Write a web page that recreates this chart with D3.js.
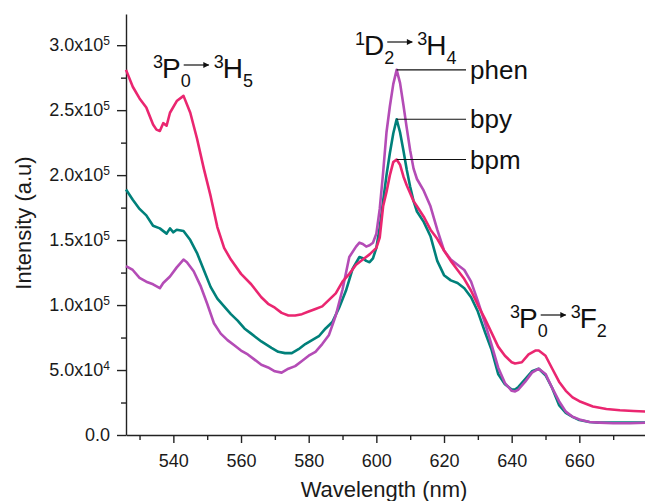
<!DOCTYPE html>
<html>
<head>
<meta charset="utf-8">
<script src="https://cdn.jsdelivr.net/npm/d3@7"></script>
<style>
  body { margin: 0; background: #fff; }
  svg { display: block; font-family: "Liberation Sans", Arial, Helvetica, sans-serif; }
</style>
</head>
<body>
<svg id="chart"></svg>
<script>
// intensity values are in units of 10^3 counts
const bpmWl = [526,528,530,532,534,535,536,537,538,539,541,543,545,547,549,551,553,555,557,560,563,566,568,570,572,574,576,578,580,582,584,586,588,590,592,594,596,598,600,601,602,603,604,605,606,607,608,609,610,611,612,614,616,618,620,622,624,626,628,630,632,634,636,638,640,641,643,645,647,648,650,652,654,656,658,660,664,668,672,676,680];
const bpmI = [281,268,259,252,239,235,234,240,238,248,257,261,248,228,205,184,160,144,135,124,116,106,101,98,94,92,92,93,95,97,99,104,109,118,124,131,135,139,144,152,176,187,200,210,212,208,199,192,186,180,176,168,158,151,142,134,127,120,111,100,90,79,68,61,56,55,56,62,65,65,61,51,41,34,29,26,22,20,19,18.5,18];

const bpyWl = [526,528,530,532,534,536,538,539,540,541,543,545,547,549,551,553,555,557,559,561,563,566,569,571,573,575,577,579,581,583,585,587,589,591,593,595,596,597,598,599,600,601,602,603,604,605,606,607,608,609,610,611,612,614,616,618,620,622,624,626,628,630,632,634,636,638,640,641,642,644,646,648,650,652,654,656,658,660,663,666,670,675,680];
const bpyI = [189,181,174,169,161,159,155,159,156,158,157,150,140,127,114,105,99,93,88,82,78,72,67,64,63,63,66,70,73,76,82,87,98,111,128,137,136,134,133,136,144,160,180,200,217,232,243,233,219,204,191,180,172,164,153,134,123,119,117,113,106,95,80,66,47,39,35,35,37,43,49,51,46,36,23,17,14,11.5,10,9.5,9.5,9.5,9.5];

const phenWl = [526,528,530,532,534,536,537,539,541,543,544,546,548,550,552,554,556,558,560,562,564,566,568,570,572,574,576,578,580,582,584,586,588,590,592,594,595,596,597,598,599,600,601,602,603,604,605,606,607,608,609,610,611,612,614,616,618,620,622,624,626,628,630,632,634,636,638,640,641,642,644,646,648,650,652,654,656,658,660,663,666,670,675,680];
const phenI = [130,127,121,118,116,113,117,122,129,135,133,126,115,101,86,78,73,69,65,62,58,54,52,49,48,51,53,57,61,64,70,77,92,112,137,145,148,147,145,146,148,155,174,202,233,253,270,281,271,254,236,219,205,197,188,176,158,142,135,131,127,118,103,87,70,52,40,34,33.5,35,41,48,51,47,36,26,18,14,12,10,9.5,9,9,9.5];

const seriesNames = ['bpy', 'phen', 'bpm'];
const seriesColors = ['#00807a', '#b44cb6', '#ea2670'];

// the 1D2 -> 3H4 band, where each curve's peak gets its label
const peakBand = [598, 614];

const xTicks = [540, 560, 580, 600, 620, 640, 660];
const xMinorTicks = [530, 550, 570, 590, 610, 630, 650, 670];
const yTicks = [0, 50, 100, 150, 200, 250, 300];
const yMinorTicks = [25, 75, 125, 175, 225, 275];
const yTickBase = ['0.0', '5.0x10', '1.0x10', '1.5x10', '2.0x10', '2.5x10', '3.0x10'];
const yTickExp = ['', '4', '5', '5', '5', '5', '5'];

const width = 645, height = 501;
const svg = d3.select('#chart').attr('width', width).attr('height', height);

const x = d3.scaleLinear().domain([526, 680]).range([126, 647]);
const y = d3.scaleLinear().domain([0, 324]).range([435, 14]);

const axisColor = '#222';

// x axis
svg.append('g').attr('transform', 'translate(0,435)')
  .call(d3.axisBottom(x).tickValues(xTicks).tickSize(8).tickSizeOuter(0).tickPadding(11));
svg.append('g').attr('transform', 'translate(0,435)')
  .call(d3.axisBottom(x).tickValues(xMinorTicks).tickSize(5).tickSizeOuter(0).tickFormat(''))
  .select('.domain').remove();

// y axis
const yAx = svg.append('g').attr('transform', 'translate(126,0)')
  .call(d3.axisLeft(y).tickValues(yTicks).tickSize(9).tickSizeOuter(0).tickPadding(7));
svg.append('g').attr('transform', 'translate(126,0)')
  .call(d3.axisLeft(y).tickValues(yMinorTicks).tickSize(5).tickSizeOuter(0).tickFormat(''))
  .select('.domain').remove();

svg.selectAll('.domain, .tick line').attr('stroke', axisColor).attr('stroke-width', 1.4);
svg.selectAll('.tick text').attr('fill', '#1a1a1a').attr('font-size', 18)
  .attr('font-family', '"Liberation Sans", Arial, sans-serif');

yAx.selectAll('.tick text').each(function(d, i) {
  const t = d3.select(this).text(null);
  t.append('tspan').text(yTickBase[i]);
  if (yTickExp[i]) t.append('tspan').attr('dy', '-0.5em').attr('font-size', 12).text(yTickExp[i]);
});

// axis titles
svg.append('text').attr('x', 384).attr('y', 497).attr('text-anchor', 'middle')
  .attr('font-size', 22).attr('fill', '#1a1a1a').text('Wavelength (nm)');
svg.append('text').attr('transform', 'translate(31,223) rotate(-90)').attr('text-anchor', 'middle')
  .attr('font-size', 22).attr('fill', '#1a1a1a').text('Intensity (a.u)');

// spectra
const series = [
  { name: seriesNames[0], wl: bpyWl, val: bpyI, color: seriesColors[0] },
  { name: seriesNames[1], wl: phenWl, val: phenI, color: seriesColors[1] },
  { name: seriesNames[2], wl: bpmWl, val: bpmI, color: seriesColors[2] }
];

const line = d3.line().x(d => x(d[0])).y(d => y(d[1]));

svg.append('g').selectAll('path')
  .data(series)
  .join('path')
  .attr('fill', 'none')
  .attr('stroke', d => d.color)
  .attr('stroke-width', 2.6)
  .attr('stroke-linejoin', 'round')
  .attr('d', d => line(d3.zip(d.wl, d.val)));

// peak labels with leader lines
const labelX = 470;
series.forEach(s => {
  const pts = d3.zip(s.wl, s.val).filter(p => p[0] >= peakBand[0] && p[0] <= peakBand[1]);
  const pk = pts[d3.maxIndex(pts, p => p[1])];
  const px = x(pk[0]), py = y(pk[1]);
  svg.append('line').attr('x1', px).attr('x2', labelX - 4).attr('y1', py).attr('y2', py)
    .attr('stroke', '#111').attr('stroke-width', 1.1);
  svg.append('text').attr('x', labelX).attr('y', py + 9).attr('font-size', 26)
    .attr('fill', '#111').text(s.name);
});

// transition annotations
svg.append('defs').append('marker')
  .attr('id', 'arr').attr('viewBox', '0 0 10 10').attr('refX', 9).attr('refY', 5)
  .attr('markerWidth', 7).attr('markerHeight', 6).attr('markerUnits', 'userSpaceOnUse')
  .attr('orient', 'auto')
  .append('path').attr('d', 'M0,0L10,5L0,10Z').attr('fill', '#111');

const ann = svg.append('g').attr('fill', '#111');

function level(x0, base, pre, letter, sub) {
  const a = ann.append('text').attr('x', x0).attr('y', base - 10).attr('font-size', 18).text(pre);
  const w1 = a.node().getComputedTextLength() - 1;
  const b = ann.append('text').attr('x', x0 + w1).attr('y', base).attr('font-size', 28).text(letter);
  const w2 = b.node().getComputedTextLength();
  ann.append('text').attr('x', x0 + w1 + w2).attr('y', base + 9).attr('font-size', 18).text(sub);
  return x0 + w1 + w2;
}

function transition(x0, base, p1, l1, s1, p2, l2, s2) {
  const subX = level(x0, base, p1, l1, s1);
  const ax0 = subX + 3, ax1 = subX + 28;
  ann.append('line').attr('x1', ax0).attr('x2', ax1).attr('y1', base - 13).attr('y2', base - 13)
    .attr('stroke', '#111').attr('stroke-width', 1.2).attr('marker-end', 'url(#arr)');
  level(ax1 + 5, base, p2, l2, s2);
}

transition(153, 78, '3', 'P', '0', '3', 'H', '5');
transition(355, 55, '1', 'D', '2', '3', 'H', '4');
transition(510, 328, '3', 'P', '0', '3', 'F', '2');
</script>
</body>
</html>
